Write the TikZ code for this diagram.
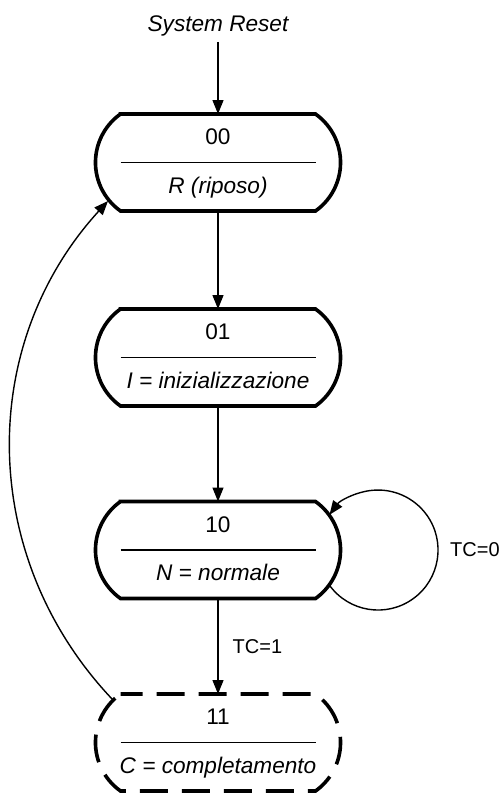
\documentclass[tikz,border=0pt]{standalone}
\usepackage{fontspec}
\setmainfont{Liberation Sans}
\usetikzlibrary{arrows.meta,calc}
\tikzset{
  stnode/.style={rectangle,minimum width=195pt,minimum height=97pt,inner sep=0pt,outer sep=0pt},
  boxline/.style={line width=3.6pt,line join=miter},
  dashbox/.style={boxline,dash pattern=on 28pt off 14pt,dash phase=6pt},
  divider/.style={line width=1.4pt},
  conn/.style={line width=1.4pt,-{Triangle[length=14pt,width=11pt]}},
  lbl/.style={font=\fontsize{22.6}{27}\selectfont,inner sep=0pt},
  tclbl/.style={font=\fontsize{20}{24}\selectfont,inner sep=0pt}
}
\newcommand\drawstate[5]{%
  \node[stnode] (#1) at (218pt,-#2pt) {};
  \draw[#5] (#1.north west) -- (#1.north east)
     arc[start angle=54.6,end angle=-54.6,radius=59.5pt] -- (#1.south west)
     arc[start angle=234.6,end angle=125.4,radius=59.5pt] -- cycle;
  \draw[divider] (#1.west) -- (#1.east);
  \node[lbl,anchor=base] (#1top) at ([yshift=18pt]#1.center) {#3};
  \node[lbl,anchor=base] (#1bot) at ([yshift=-30.5pt]#1.center) {#4};
}
\begin{document}
\begin{tikzpicture}[x=1pt,y=1pt]
\useasboundingbox (0,0) rectangle (501,-795);
\node[lbl,anchor=base,inner sep=6pt] (reset) at (218,-31) {\itshape System Reset};
\drawstate{s0}{162.5}{00}{\itshape R (riposo)}{boxline}
\drawstate{s1}{357.5}{01}{\itshape I = inizializzazione}{boxline}
\drawstate{s2}{550}{10}{\itshape N = normale}{boxline}
\drawstate{s3}{742.5}{11}{\itshape C = completamento}{dashbox}
\draw[conn] (reset.south) -- (s0.north);
\draw[conn] (s0.south) -- (s1.north);
\draw[conn] (s1.south) -- (s2.north);
\draw[conn] (s2.south) -- node[tclbl,right=14pt] (tc1) {TC=1} (s3.north);
\coordinate (loopstart) at ($(s2.center)+(111.5,-35.3)$);
\draw[conn] (loopstart) arc[start angle=-144,end angle=144,radius=60]
  coordinate[pos=0.5] (loopmid);
\node[tclbl,right=12pt] (tc0) at (loopmid) {TC=0};
\coordinate (backstart) at ($(s3.center)+(-105,42.5)$);
\coordinate (backend) at ($(s0.center)+(-110,-38.5)$);
\draw[conn] (backstart) to[bend left=43] (backend);
\end{tikzpicture}
\end{document}
